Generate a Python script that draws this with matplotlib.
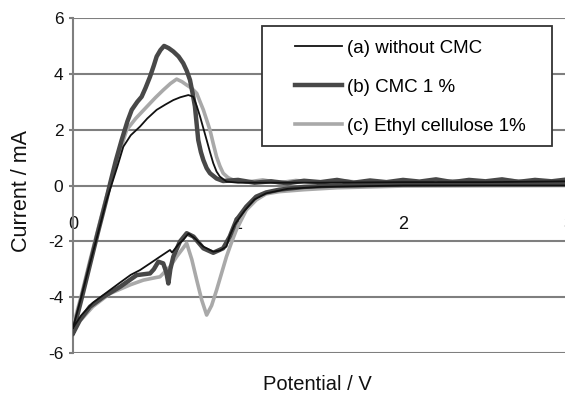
import matplotlib
matplotlib.use("Agg")
import matplotlib.pyplot as plt
from matplotlib.patches import Rectangle

plt.rcParams['font.family'] = ['Liberation Sans', 'DejaVu Sans']

# ---- data ----
labels = ["(a) without CMC", "(b) CMC 1 %", "(c) Ethyl cellulose 1%"]

a_x = [0.0, 0.05, 0.1, 0.15, 0.2, 0.235, 0.27, 0.305, 0.35, 0.406, 0.45, 0.507, 0.56, 0.608, 0.65, 0.699,
       0.729, 0.75, 0.77, 0.79, 0.81, 0.83, 0.85, 0.87, 0.89, 0.93, 1.0, 1.5, 2.0, 2.5, 3.0,
       3.0, 2.0, 1.5, 1.3, 1.17, 1.1, 1.04, 0.98, 0.95, 0.93, 0.89, 0.85, 0.79, 0.74, 0.70, 0.668,
       0.64, 0.628, 0.6, 0.588, 0.527, 0.467, 0.406, 0.35, 0.28, 0.2, 0.12, 0.05, 0.0]
a_y = [-5.1, -4.0, -2.85, -1.75, -0.6, 0.05, 0.7, 1.39, 1.8, 2.11, 2.4, 2.71, 2.9, 3.06, 3.16, 3.24,
       3.18, 2.85, 2.47, 2.05, 1.63, 1.2, 0.80, 0.5, 0.32, 0.14, 0.1, 0.1, 0.12, 0.12, 0.15,
       0.0, 0.0, -0.05, -0.12, -0.28, -0.5, -0.9, -1.4, -1.8, -2.19, -2.33, -2.37, -2.19, -1.9, -1.72, -1.95,
       -2.1, -2.19, -2.4, -2.31, -2.55, -2.79, -3.03, -3.2, -3.5, -3.85, -4.2, -4.65, -5.1]

b_x = [0.0, 0.05, 0.1, 0.15, 0.2, 0.224, 0.26, 0.295, 0.33, 0.356, 0.39, 0.416, 0.44, 0.467, 0.49, 0.507,
       0.53, 0.552, 0.58, 0.608, 0.64, 0.668, 0.69, 0.709, 0.725, 0.739, 0.759, 0.775, 0.79, 0.81, 0.83,
       0.87, 0.91, 1.0, 1.1, 1.2, 1.3, 1.4, 1.5, 1.6, 1.7, 1.8, 1.9, 2.0, 2.1, 2.2, 2.3, 2.4, 2.5, 2.6,
       2.7, 2.8, 2.9, 3.0,
       3.0, 2.5, 2.0, 1.6, 1.4, 1.25, 1.17, 1.11, 1.05, 0.99, 0.95, 0.91, 0.85, 0.79, 0.73, 0.689,
       0.648, 0.608, 0.59, 0.578, 0.565, 0.547, 0.517, 0.49, 0.467, 0.386, 0.285, 0.184, 0.103, 0.042, 0.0]
b_y = [-5.25, -4.1, -2.9, -1.7, -0.55, 0.05, 0.9, 1.63, 2.3, 2.71, 3.0, 3.18, 3.5, 3.9, 4.3, 4.62,
       4.85, 5.0, 4.92, 4.80, 4.62, 4.38, 4.1, 3.78, 3.3, 2.83, 1.63, 1.2, 0.91, 0.62, 0.44,
       0.25, 0.16, 0.2, 0.1, 0.15, 0.08, 0.17, 0.12, 0.2, 0.1, 0.18, 0.12, 0.2, 0.14, 0.22, 0.12, 0.2, 0.15,
       0.22, 0.13, 0.2, 0.15, 0.22,
       0.05, 0.05, 0.03, 0.0, -0.05, -0.15, -0.25, -0.40, -0.76, -1.24, -1.83, -2.25, -2.41, -2.25, -1.83, -1.71,
       -2.01, -2.55, -3.0, -3.51, -3.1, -2.79, -2.73, -3.0, -3.15, -3.21, -3.63, -3.99, -4.34, -4.82, -5.3]

c_x = [0.0, 0.05, 0.1, 0.15, 0.2, 0.23, 0.27, 0.325, 0.38, 0.447, 0.5, 0.547, 0.59, 0.628, 0.66, 0.689,
       0.72, 0.75, 0.77, 0.79, 0.81, 0.83, 0.85, 0.87, 0.89, 0.91, 0.94, 0.97, 1.05, 1.15, 1.25, 1.35,
       1.5, 1.65, 1.8, 2.0, 2.15, 2.3, 2.5, 2.65, 2.8, 3.0,
       3.0, 2.0, 1.6, 1.4, 1.25, 1.17, 1.11, 1.05, 0.99, 0.96, 0.93, 0.90, 0.87, 0.84, 0.81, 0.78, 0.75,
       0.72, 0.689, 0.66, 0.628, 0.588, 0.547, 0.527, 0.5, 0.426, 0.35, 0.224, 0.12, 0.05, 0.0]
c_y = [-5.05, -3.95, -2.75, -1.6, -0.45, 0.1, 0.95, 1.99, 2.4, 2.82, 3.15, 3.42, 3.65, 3.81, 3.72, 3.60,
       3.48, 3.30, 3.0, 2.71, 2.35, 1.99, 1.5, 1.03, 0.7, 0.44, 0.28, 0.2, 0.12, 0.2, 0.1, 0.18,
       0.1, 0.16, 0.08, 0.15, 0.1, 0.17, 0.1, 0.18, 0.12, 0.18,
       0.0, -0.02, -0.08, -0.15, -0.22, -0.3, -0.52, -0.88, -1.59, -2.05, -2.55, -3.15, -3.75, -4.3, -4.64, -4.1, -3.39,
       -2.65, -2.07, -2.3, -2.55, -2.91, -3.15, -3.27, -3.3, -3.39, -3.55, -3.87, -4.34, -4.8, -5.06]

x_ticks = [0, 1, 2, 3]
y_ticks = [-6, -4, -2, 0, 2, 4, 6]

# ---- figure ----
W, H = 565, 393
fig = plt.figure(figsize=(W / 100, H / 100), dpi=100)
L, R, T, B = 73, 568, 18, 353
AW, AH = R - L, B - T
ax = fig.add_axes([L / W, 1 - B / H, AW / W, AH / H])

grid_c = '#7f7f7f'
for yv in y_ticks:
    ax.axhline(yv, color=grid_c, lw=1.5, zorder=1)

lc, = ax.plot(c_x, c_y, color='#a9a9a9', lw=2.6, zorder=3, label=labels[2])
lb, = ax.plot(b_x, b_y, color='#484848', lw=3.2, zorder=4, label=labels[1])
la, = ax.plot(a_x, a_y, color='#111111', lw=1.3, zorder=5, label=labels[0])

ax.set_xlim(0, 3)
ax.set_ylim(-6, 6)
ax.set_xticks(x_ticks)
ax.set_yticks(y_ticks)
ax.set_xticklabels([str(v) for v in x_ticks])
ax.set_yticklabels([str(v) for v in y_ticks])

for s in ['top', 'right']:
    ax.spines[s].set_visible(False)
ax.spines['bottom'].set_position(('data', 0))
ax.spines['bottom'].set_visible(False)
ax.spines['left'].set_color(grid_c)
ax.spines['left'].set_linewidth(1.5)
ax.tick_params(axis='x', length=0, pad=22, labelsize=13, colors='#111111')
ax.tick_params(axis='y', length=3, width=1.5, color=grid_c, pad=4, labelsize=12.5, labelcolor='#111111')
ax.patch.set_alpha(0)

# legend box
ax.add_patch(Rectangle(((262 - L) / AW, (B - 146) / AH), 290 / AW, 120 / AH,
                       transform=ax.transAxes, facecolor='white', edgecolor='#333333',
                       lw=1.3, zorder=9, clip_on=False))
leg = ax.legend(handles=[la, lb, lc], loc='upper left',
                bbox_to_anchor=((295 - L) / AW, (B - 39.5) / AH),
                fontsize=13.5, frameon=False, handlelength=2.5, handletextpad=0.27,
                labelspacing=1.17, borderpad=0, borderaxespad=0)
leg.set_zorder(10)

fig.text(317 / W, 1 - 390 / H, 'Potential / V', ha='center', va='baseline', fontsize=14.5, color='#111111')
fig.text(22 / W, 1 - 191 / H, 'Current / mA', ha='center', va='center', rotation=90, fontsize=15.5, color='#111111')

fig.savefig('out.png', dpi=100)
